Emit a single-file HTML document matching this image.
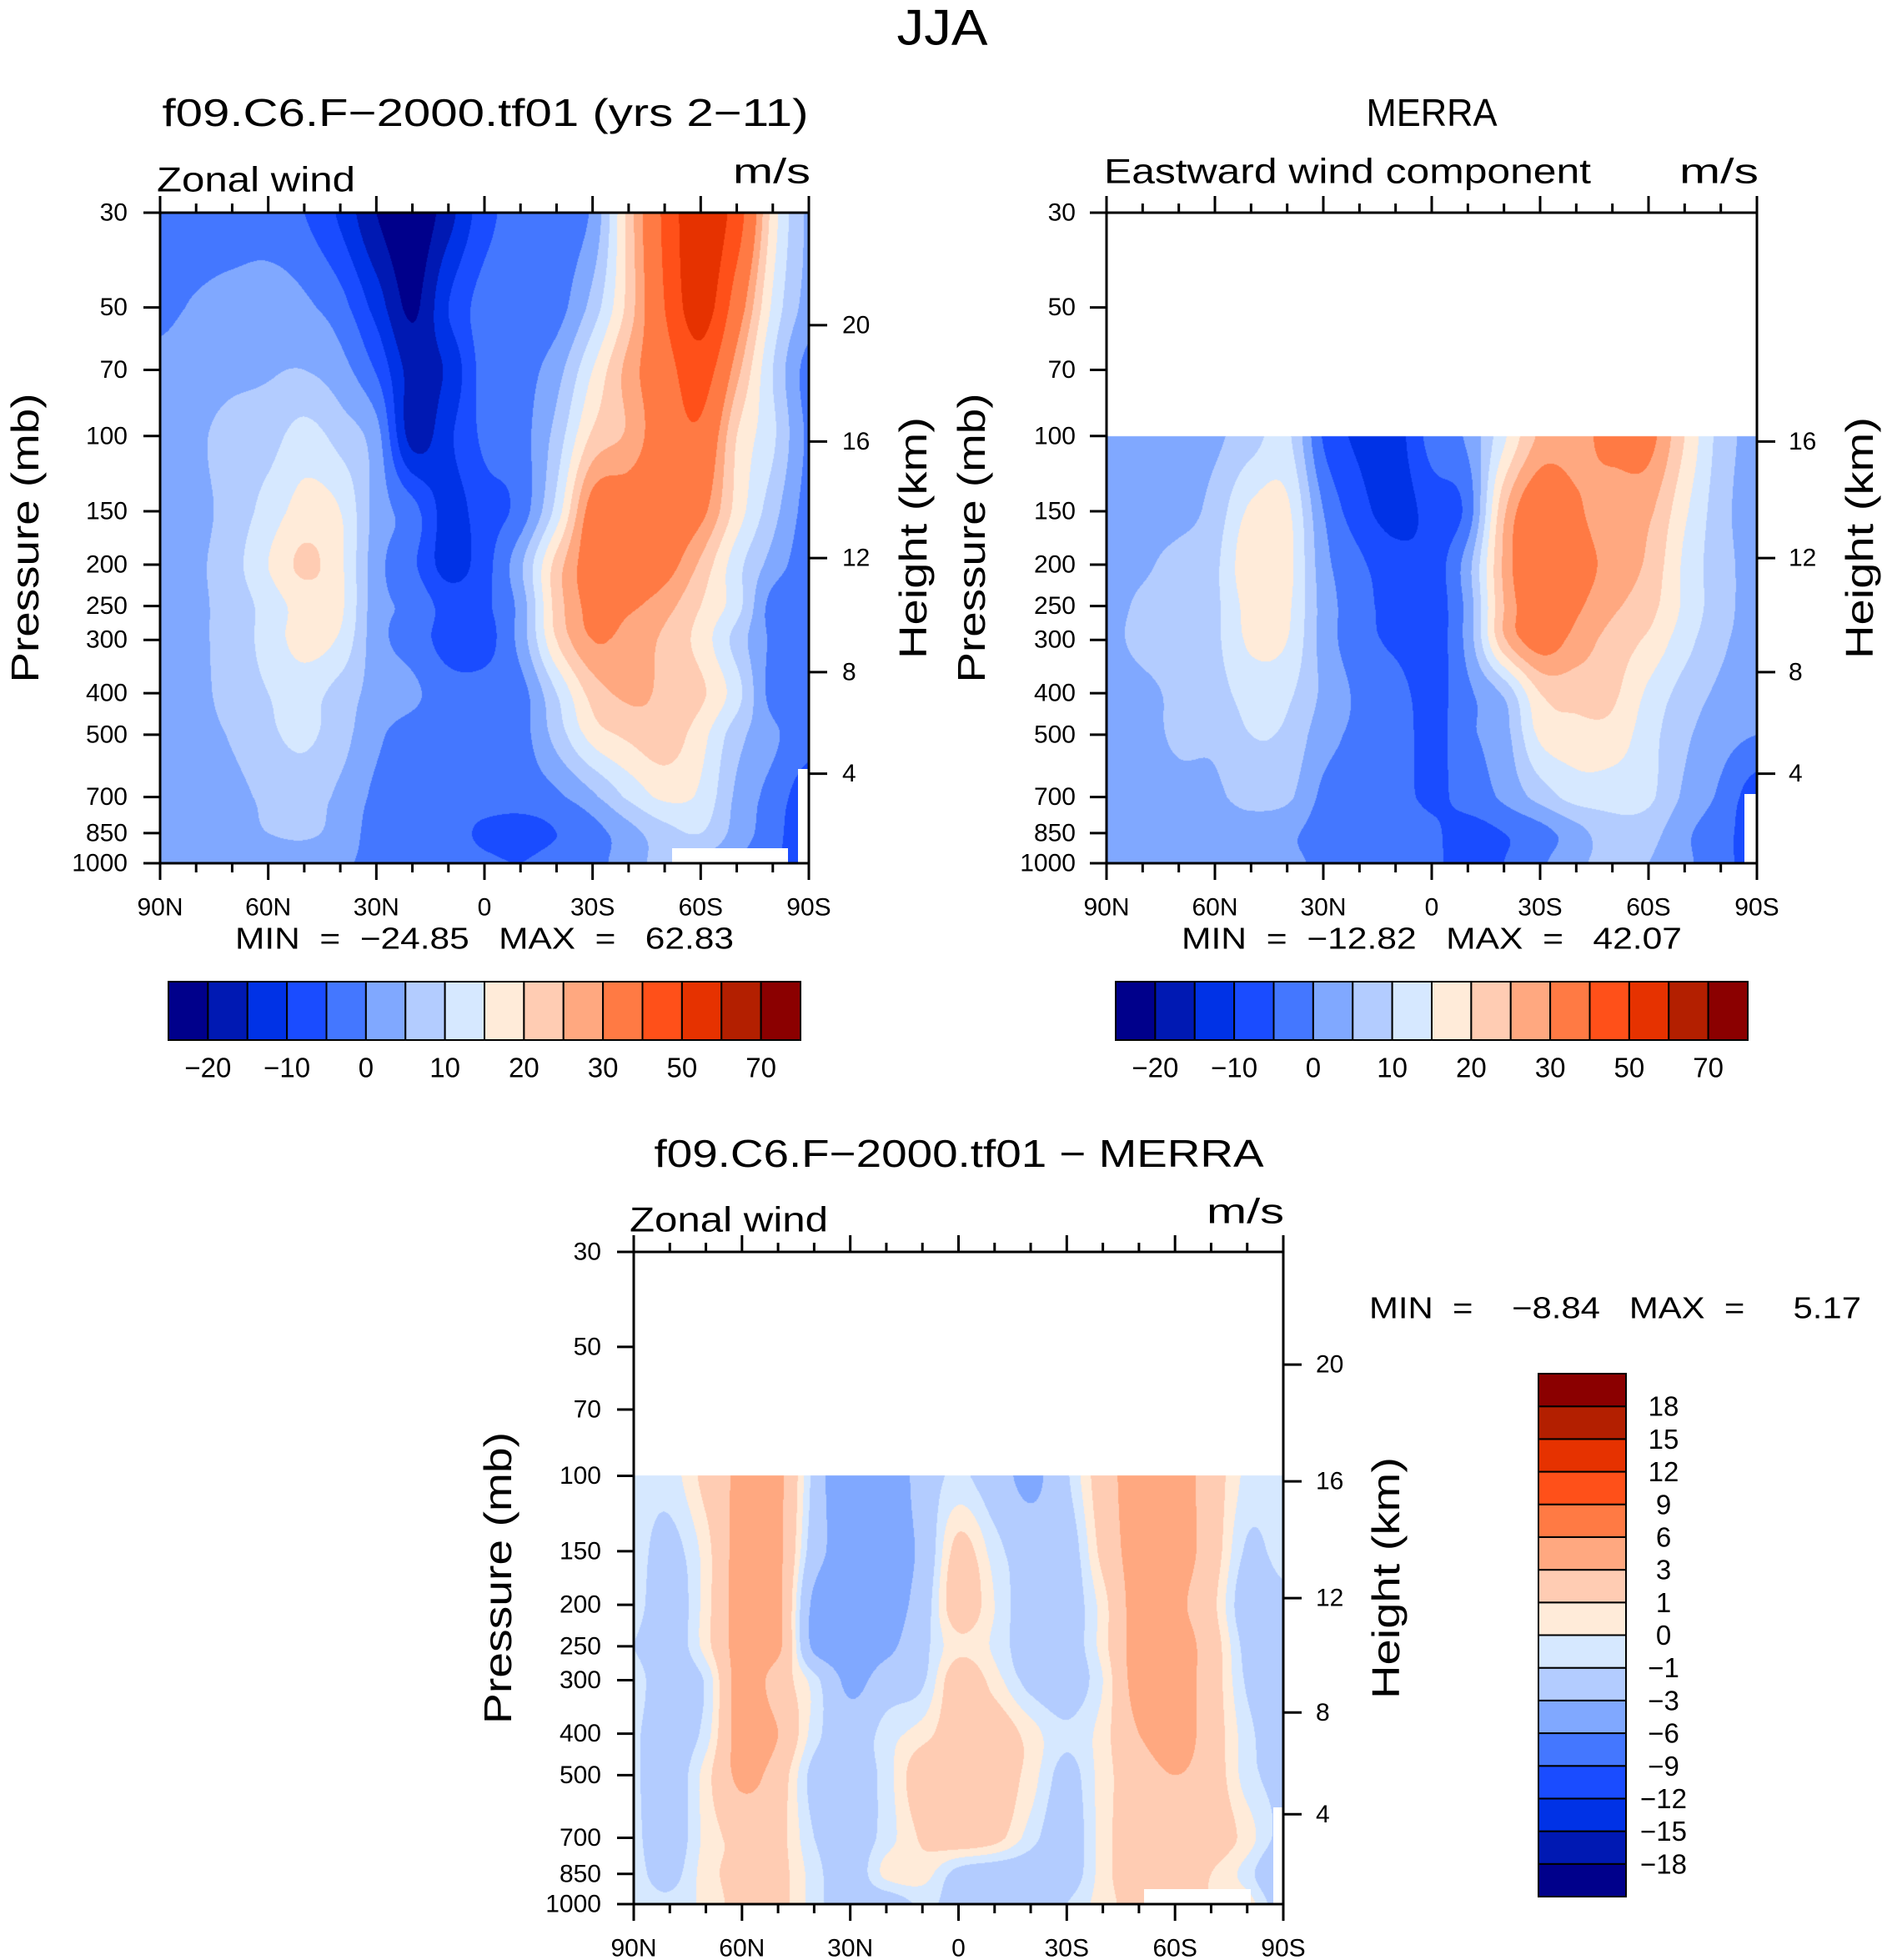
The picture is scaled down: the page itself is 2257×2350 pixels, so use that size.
<!DOCTYPE html>
<html><head><meta charset="utf-8">
<style>
body{margin:0;background:#fff;}
#root{position:relative;width:2257px;height:2350px;overflow:hidden;background:#fff;}
canvas{position:absolute;}
svg{position:absolute;left:0;top:0;}
text{font-family:"Liberation Sans",sans-serif;fill:#000;white-space:pre;}
</style></head>
<body>
<div id="root">
<canvas id="c1"></canvas>
<canvas id="c2"></canvas>
<canvas id="c3"></canvas>
<svg id="ov" width="2257" height="2350">
<rect x="806" y="1017" width="139" height="18" fill="#fff"/>
<rect x="957" y="922" width="13" height="113" fill="#fff"/>
<rect x="2092" y="952" width="15" height="83" fill="#fff"/>
<rect x="1372" y="2265" width="128" height="18" fill="#fff"/>
<rect x="1527" y="2167" width="12" height="116" fill="#fff"/>
<text x="1130" y="33" font-size="60" text-anchor="middle" dominant-baseline="central" textLength="109" lengthAdjust="spacingAndGlyphs">JJA</text>
<text x="582" y="135" font-size="46" text-anchor="middle" dominant-baseline="central" textLength="775" lengthAdjust="spacingAndGlyphs">f09.C6.F−2000.tf01 (yrs 2−11)</text>
<text x="188" y="215" font-size="42" dominant-baseline="central" textLength="238" lengthAdjust="spacingAndGlyphs">Zonal wind</text>
<text x="972" y="205" font-size="42" text-anchor="end" dominant-baseline="central" textLength="93" lengthAdjust="spacingAndGlyphs">m/s</text>
<text x="581" y="1125" font-size="36" text-anchor="middle" dominant-baseline="central" textLength="598" lengthAdjust="spacingAndGlyphs">MIN  =  −24.85   MAX  =   62.83</text>
<text x="1717" y="135" font-size="46" text-anchor="middle" dominant-baseline="central" textLength="157" lengthAdjust="spacingAndGlyphs">MERRA</text>
<text x="1324" y="205" font-size="42" dominant-baseline="central" textLength="584" lengthAdjust="spacingAndGlyphs">Eastward wind component</text>
<text x="2109" y="205" font-size="42" text-anchor="end" dominant-baseline="central" textLength="95" lengthAdjust="spacingAndGlyphs">m/s</text>
<text x="1717" y="1125" font-size="36" text-anchor="middle" dominant-baseline="central" textLength="600" lengthAdjust="spacingAndGlyphs">MIN  =  −12.82   MAX  =   42.07</text>
<text x="1150" y="1383" font-size="46" text-anchor="middle" dominant-baseline="central" textLength="731" lengthAdjust="spacingAndGlyphs">f09.C6.F−2000.tf01 − MERRA</text>
<text x="755" y="1462" font-size="42" dominant-baseline="central" textLength="238" lengthAdjust="spacingAndGlyphs">Zonal wind</text>
<text x="1540" y="1452" font-size="42" text-anchor="end" dominant-baseline="central" textLength="93" lengthAdjust="spacingAndGlyphs">m/s</text>
<text x="1937" y="1568" font-size="36" text-anchor="middle" dominant-baseline="central" textLength="590" lengthAdjust="spacingAndGlyphs">MIN  =    −8.84   MAX  =     5.17</text>
<text transform="translate(30,645) rotate(-90)" font-size="46" text-anchor="middle" dominant-baseline="central" textLength="347" lengthAdjust="spacingAndGlyphs">Pressure (mb)</text>
<text transform="translate(1095,645) rotate(-90)" font-size="46" text-anchor="middle" dominant-baseline="central" textLength="290" lengthAdjust="spacingAndGlyphs">Height (km)</text>
<text transform="translate(1165,645) rotate(-90)" font-size="46" text-anchor="middle" dominant-baseline="central" textLength="347" lengthAdjust="spacingAndGlyphs">Pressure (mb)</text>
<text transform="translate(2230,645) rotate(-90)" font-size="46" text-anchor="middle" dominant-baseline="central" textLength="290" lengthAdjust="spacingAndGlyphs">Height (km)</text>
<text transform="translate(597,1892) rotate(-90)" font-size="46" text-anchor="middle" dominant-baseline="central" textLength="350" lengthAdjust="spacingAndGlyphs">Pressure (mb)</text>
<text transform="translate(1662,1892) rotate(-90)" font-size="46" text-anchor="middle" dominant-baseline="central" textLength="290" lengthAdjust="spacingAndGlyphs">Height (km)</text>
</svg>
</div>
<script>
const lats=[90,80,70,60,50,40,30,20,10,0,-10,-20,-30,-40,-50,-60,-70,-80,-90];
const modelLevels=[30,50,70,100,150,200,250,300,400,500,700,850,1000];
const merraLevels=[100,150,200,250,300,400,500,700,850,1000];
const modelU=[
[-3,-3,-3,-3,-5,-11,-20,-24,-17,-7,-3,-2,1,22,42,58,45,18,4],
[-1,0.5,2,3,1,-3,-12,-21,-10,-3,-3,-2,7,22,40,55,35,14,3],
[1,2,3.5,4.5,5,2,-5.5,-17,-14,-3,-2,3,15,27,36,45,27,10,-2],
[2,4,7,8,12,8,2,-17,-11,-4,-2,7,21,26,35,38,20,11,-1],
[2,3.5,7,12,17,15,3,-3,-12,-7,-3,12,33,35,36,32,18,7,-2],
[1.5,4,8,15,21,16,2,-4,-12,-7,4,22,34,36,33,24,12,3,-3],
[1.5,4,7,12,17,16,2,-1,-7,-6,2,22,32,31,27,20,12,-2,-3],
[1.5,4,7,12,17,14,2,-2,-7,-7,2,20,30,28,24,18,8,-1,-3],
[1.5,3.5,7,10,12,8,3,1,-3,-3,-2,10,22,26,24,21,12,-2,-3],
[1,3,5.5,9,11,7,1,-2,-3,-3,-2,7,17,21,23,17,7,1,-3],
[1,2,3.5,6,7,4,-1,-2,-3,-3,-3,-1,4,11,16,14,4,-2,-8],
[1,2,3,5,6,3,-2,-3,-3,-6,-7,-5,-2,3,8,10,3,-3,-9],
[0.5,0.5,1,1,1,0.5,-1,-2,-2,-4,-5,-3,-2,3,6,4,0,-4,-8]
];
const merraU=[
[3,3,3,4,8,11,-5.5,-11,-12,-3,1,14,26,28,32,32,20,8,3],
[2,2.5,3,7,16,16,0,-8,-12,-8,-3,24,36,31,27,26,16,7,2],
[2,4,7,9,19,17,2,-4,-8,-8,3,26,38,33,28,24,14,7,3],
[3,6,7,9,17,16,3,-3,-7,-8,2,25,35,31,26,22,14,7,3],
[4,6,7,9,16,15,3,-3,-6,-8,2,24,33,28,23,19,12,6,3],
[3,4,6,8,12,11,4,-1,-3,-7,-1,6,20,22,21,14,8,4,2],
[3,3,6,6,10,9,2,-1,-2,-7,-1,3,16,18,18,12,6,2,0],
[2,2,3,4,7,6,-1,-2,-3,-6,-3,1,7,12,12,11,4,-1,-8],
[2,2,2,2,2,1,-2,-3,-1,-4,-7,-5,-2,3,8,7,1,-3,-8],
[2,1,2,2,2,1,-1,-3,-3,-4,-7,-5,-1,4,6,5,1,-3,-8]
];
const diffU=[
[-0.5,-0.5,1.5,3.5,3.5,-1.5,-5.5,-5,-2,-0.8,-2,-3.5,-1.2,2,4,4,2,-0.3,-0.5],
[-0.5,-1.5,0.5,4,3.5,-2,-4,-4,-2.5,1.5,-0.5,-2,-2,1.5,4,4,2,-1.2,-0.5],
[-0.5,-2,0.5,4,3.5,-3.5,-4,-4,-2,2,0,-2,-2,0.5,4,3.5,1.5,-2,-1.5],
[-1,-2,0.5,4,3.5,-3.5,-4,-3.5,-1.5,0.7,-0.2,-2,-2,0.5,4,4,2,-1.5,-2],
[-0.5,-2,-0.8,4,2,-0.5,-3.5,-2,-1.2,2,0.5,-1.5,-2,0,4,4,2,-1.2,-2],
[-0.8,-2,-0.5,4,3,-0.5,-2,-0.5,0.5,2,2,0.5,-0.8,0.5,3,4,2,-0.6,-2],
[-0.8,-2,0.5,3.5,2,-1.5,-2,-0.5,2,2,2,0.5,-1.5,0.5,2,3,2,-0.5,-1.5],
[-0.7,-2,0.3,1.5,1.5,-1,-2,-0.5,1.2,2,1.5,-0.5,-2,0.5,2,2,2,0.5,-1.5],
[-0.6,-1.5,0.5,1.5,1.5,-0.5,-2,0.3,0.5,-1.5,-2,-2,-2,0.5,2,2,1,-0.5,-3],
[-0.5,-0.7,0.3,1.5,1.5,-0.5,-2,-2,-0.8,-1.5,-1.5,-2,-1,0.5,1.5,1,1,0.5,-2]
];
const fullBounds=[-20,-15,-10,-5,0,5,10,15,20,25,30,40,50,60,70];
const diffBounds=[-18,-15,-12,-9,-6,-3,-1,0,1,3,6,9,12,15,18];
const fullTickLabels=['−20','−10','0','10','20','30','50','70'];
const diffTickLabels=['−18','−15','−12','−9','−6','−3','−1','0','1','3','6','9','12','15','18'];
const latLabels=['90N','60N','30N','0','30S','60S','90S'];
const latLabelValues=[90,60,30,0,-30,-60,-90];
const pressureTicks=[30,50,70,100,150,200,250,300,400,500,700,850,1000];
const kmTicks=[20,16,12,8,4];
const kmTickP=[55,103,193,357,617];
const palette=['#00008B','#0019B3','#0032E6','#1A4CFF','#4477FF','#80A8FF','#B3CCFF','#D6E8FF','#FFEBD9','#FFCCB3','#FFA880','#FF7A44','#FF5019','#E63200','#B31F00','#8B0000'];

const NS='http://www.w3.org/2000/svg';
const ov=document.getElementById('ov');
const L30=Math.log10(30),L1000=Math.log10(1000);
const panels=[
 {id:'c1',name:'model',x0:192,x1:970,y0:255,y1:1035,lev:modelLevels,vals:modelU,bounds:fullBounds,km:[0,1,2,3,4],plab:153,klab:1010},
 {id:'c2',name:'merra',x0:1327,x1:2107,y0:255,y1:1035,lev:merraLevels,vals:merraU,bounds:fullBounds,km:[1,2,3,4],plab:1290,klab:2145},
 {id:'c3',name:'difference',x0:760,x1:1539,y0:1501,y1:2283,lev:merraLevels,vals:diffU,bounds:diffBounds,km:[0,1,2,3,4],plab:721,klab:1578}
];
function yOfP(P,p){return P.y0+(Math.log10(p)-L30)/(L1000-L30)*(P.y1-P.y0);}
function xOfLat(P,lat){return P.x0+(90-lat)/180*(P.x1-P.x0);}
function hex(c){return [parseInt(c.slice(1,3),16),parseInt(c.slice(3,5),16),parseInt(c.slice(5,7),16)];}
const rgb=palette.map(hex);
function colorIndex(v,b){let k=0;while(k<b.length&&v>=b[k])k++;return k;}
function cr(p0,p1,p2,p3,t){return 0.5*((2*p1)+(-p0+p2)*t+(2*p0-5*p1+4*p2-p3)*t*t+(-p0+3*p1-3*p2+p3)*t*t*t);}
function rowAt(row,f){
 const n=row.length;let j=Math.min(n-2,Math.max(0,Math.floor(f)));const s=f-j;
 const a=row[Math.max(0,j-1)],b=row[j],c=row[j+1],d=row[Math.min(n-1,j+2)];
 return cr(a,b,c,d,s);
}

function renderField(P){
 const cv=document.getElementById(P.id);
 const w=P.x1-P.x0,h=P.y1-P.y0;
 cv.width=w;cv.height=h;cv.style.left=P.x0+'px';cv.style.top=P.y0+'px';
 const ctx=cv.getContext('2d');
 const img=ctx.createImageData(w,h);
 const lp=P.lev.map(Math.log10);
 const n=lats.length,m=P.vals.length;
 const fx=new Float32Array(w);
 for(let x=0;x<w;x++){const lat=90-(x+0.5)/w*180;fx[x]=(lats[0]-lat)/(lats[0]-lats[n-1])*(n-1);}
 for(let y=0;y<h;y++){
  const logp=L30+(y+0.5)/h*(L1000-L30);
  if(logp<lp[0]-1e-9)continue;
  let k=0;while(k<lp.length-2&&logp>lp[k+1])k++;
  const t=Math.min(1,Math.max(0,(logp-lp[k])/(lp[k+1]-lp[k])));
  const rA=P.vals[Math.max(0,k-1)],rB=P.vals[k],rC=P.vals[k+1],rD=P.vals[Math.min(m-1,k+2)];
  for(let x=0;x<w;x++){
   const f=fx[x];
   const v=cr(rowAt(rA,f),rowAt(rB,f),rowAt(rC,f),rowAt(rD,f),t);
   const c=rgb[colorIndex(v,P.bounds)];
   const o=(y*w+x)*4;img.data[o]=c[0];img.data[o+1]=c[1];img.data[o+2]=c[2];img.data[o+3]=255;
  }
 }
 ctx.putImageData(img,0,0);
}
function mk(tag,attrs){const e=document.createElementNS(NS,tag);for(const k in attrs)e.setAttribute(k,attrs[k]);ov.appendChild(e);return e;}

panels.forEach(P=>{
 renderField(P);
 const frame=mk('rect',{x:P.x0,y:P.y0,width:P.x1-P.x0,height:P.y1-P.y0,fill:'none',stroke:'#000','stroke-width':3});
 
 
 let d='';
 for(let lat=90;lat>=-90;lat-=10){
  const x=xOfLat(P,lat);const major=(lat%30===0);const L=major?20:11;
  d+='M'+x+' '+P.y0+'V'+(P.y0-L)+'M'+x+' '+P.y1+'V'+(P.y1+L);
 }
 pressureTicks.forEach(p=>{const y=yOfP(P,p);d+='M'+P.x0+' '+y+'H'+(P.x0-20);});
 P.km.forEach(i=>{const y=yOfP(P,kmTickP[i]);d+='M'+P.x1+' '+y+'H'+(P.x1+22);});
 const ticks=mk('path',{d:d,stroke:'#000','stroke-width':3,fill:'none'});
 
 
 pressureTicks.forEach(p=>{
  const t=mk('text',{x:P.plab,y:yOfP(P,p),'font-size':30,'text-anchor':'end','dominant-baseline':'central'});
  t.textContent=String(p);
  
  
 });
 P.km.forEach(i=>{
  const t=mk('text',{x:P.klab,y:yOfP(P,kmTickP[i]),'font-size':30,'dominant-baseline':'central'});
  t.textContent=String(kmTicks[i]);
  
  
 });
 latLabels.forEach((lab,i)=>{
  const t=mk('text',{x:xOfLat(P,latLabelValues[i]),y:P.y1+53,'font-size':30,'text-anchor':'middle','dominant-baseline':'central'});
  t.textContent=lab;
  
  
 });
});

[[202,960,'model'],[1338,2096,'merra']].forEach(cb=>{
 const bw=(cb[1]-cb[0])/palette.length;
 palette.forEach((c,i)=>{
  const r=mk('rect',{x:cb[0]+i*bw,y:1177,width:bw,height:70,fill:c,stroke:'#000','stroke-width':2});
  
  
 });
 fullTickLabels.forEach((lab,i)=>{
  const t=mk('text',{x:cb[0]+(1+2*i)*bw,y:1280,'font-size':33,'text-anchor':'middle','dominant-baseline':'central'});
  t.textContent=lab;
  
  
 });
});
(function(){
 const top=1647,bot=2274,bh=(bot-top)/palette.length;
 palette.forEach((c,i)=>{
  const r=mk('rect',{x:1845,y:bot-(i+1)*bh,width:105,height:bh,fill:c,stroke:'#000','stroke-width':2});
  
  
 });
 diffTickLabels.forEach((lab,i)=>{
  const t=mk('text',{x:1995,y:bot-(i+1)*bh,'font-size':33,'text-anchor':'middle','dominant-baseline':'central'});
  t.textContent=lab;
  
  
 });
})();
</script>
</body></html>
